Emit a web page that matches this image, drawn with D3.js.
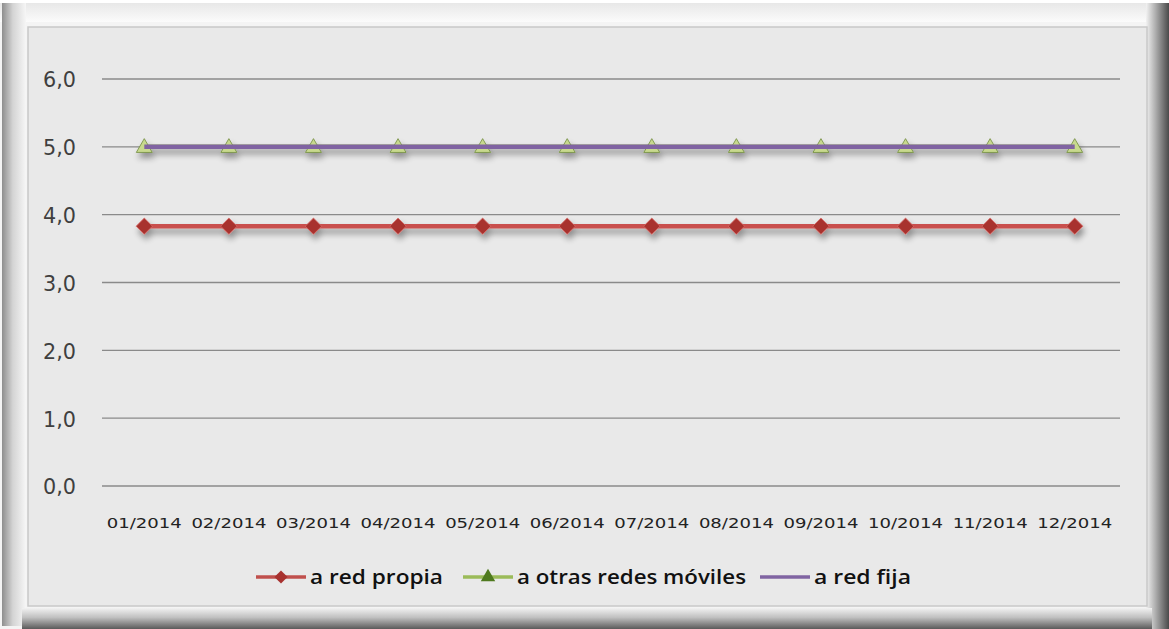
<!DOCTYPE html>
<html><head><meta charset="utf-8">
<script src="https://cdn.jsdelivr.net/npm/d3@7"></script>
<style>body{margin:0;background:#fff;}svg{display:block;}</style>
</head><body>
<svg id="c" width="1169" height="629"></svg>
<script>
const categories = ["01/2014","02/2014","03/2014","04/2014","05/2014","06/2014","07/2014","08/2014","09/2014","10/2014","11/2014","12/2014"];
const redPropia = [3.83,3.83,3.83,3.83,3.83,3.83,3.83,3.83,3.83,3.83,3.83,3.83];
const otrasMoviles = [5.0,5.0,5.0,5.0,5.0,5.0,5.0,5.0,5.0,5.0,5.0,5.0];
const redFija = [5.0,5.0,5.0,5.0,5.0,5.0,5.0,5.0,5.0,5.0,5.0,5.0];
const yTicks = [0,1,2,3,4,5,6];
const seriesNames = ["a red propia","a otras redes móviles","a red fija"];

const svg = d3.select("#c");
const W = 1169, H = 629;
const defs = svg.append("defs");
const gl = defs.append("linearGradient").attr("id","gl").attr("x1","0").attr("x2","1");
gl.append("stop").attr("offset","0").attr("stop-color","#8e8e8e");
gl.append("stop").attr("offset","0.45").attr("stop-color","#d4d4d4");
gl.append("stop").attr("offset","1").attr("stop-color","#f6f6f6");
const gr = defs.append("linearGradient").attr("id","gr").attr("x1","0").attr("x2","1");
gr.append("stop").attr("offset","0").attr("stop-color","#f2f2f2");
gr.append("stop").attr("offset","0.4").attr("stop-color","#b0b0b0");
gr.append("stop").attr("offset","1").attr("stop-color","#4a4a4a");
const gb = defs.append("linearGradient").attr("id","gb").attr("x1","0").attr("x2","0").attr("y1","0").attr("y2","1");
gb.append("stop").attr("offset","0").attr("stop-color","#f2f2f2");
gb.append("stop").attr("offset","0.45").attr("stop-color","#c0c0c0");
gb.append("stop").attr("offset","1").attr("stop-color","#5a5a5a");
const gt = defs.append("linearGradient").attr("id","gt").attr("x1","0").attr("x2","0").attr("y1","0").attr("y2","1");
gt.append("stop").attr("offset","0").attr("stop-color","#a8a8a8");
gt.append("stop").attr("offset","0.15").attr("stop-color","#e8e8e8");
gt.append("stop").attr("offset","1").attr("stop-color","#fbfbfb");
const sh = defs.append("filter").attr("id","sh").attr("x","-5%").attr("y","-100%").attr("width","110%").attr("height","400%");
sh.append("feGaussianBlur").attr("in","SourceAlpha").attr("stdDeviation","3");
sh.append("feOffset").attr("dx","2").attr("dy","5").attr("result","b");
sh.append("feComponentTransfer").append("feFuncA").attr("type","linear").attr("slope","0.4");
const mg = sh.append("feMerge"); mg.append("feMergeNode"); mg.append("feMergeNode").attr("in","SourceGraphic");

svg.append("rect").attr("x",0).attr("y",0).attr("width",W).attr("height",H).attr("fill","#f4f4f4");
svg.append("rect").attr("x",0).attr("y",0).attr("width",W).attr("height",22).attr("fill","url(#gt)");
svg.append("rect").attr("x",0).attr("y",0).attr("width",W).attr("height",3).attr("fill","#ffffff");
svg.append("rect").attr("x",2).attr("y",3).attr("width",24).attr("height",H-6).attr("fill","url(#gl)");
svg.append("rect").attr("x",1146).attr("y",3).attr("width",23).attr("height",H-3).attr("fill","url(#gr)");
svg.append("rect").attr("x",22).attr("y",608).attr("width",1130).attr("height",21).attr("fill","url(#gb)");
svg.append("rect").attr("x",28).attr("y",27).attr("width",1119).attr("height",579)
  .attr("fill","#e9e9e9").attr("stroke","#c8c8c8").attr("stroke-width",1.5);

const m = {left:102, right:1117, top:79, bottom:486};
const x = d3.scaleBand().domain(categories).range([m.left, m.right]);
const y = d3.scaleLinear().domain([0,6]).range([m.bottom, m.top]);
const cx = d => x(d) + x.bandwidth()/2;

svg.append("g").selectAll("line").data(yTicks).join("line")
  .attr("x1",m.left).attr("x2",m.right+3).attr("y1",d=>y(d)).attr("y2",d=>y(d))
  .attr("stroke","#8a8a8a").attr("stroke-width",1.3);

const yAxis = d3.axisLeft(y).tickValues(yTicks).tickSize(0).tickPadding(0)
  .tickFormat(d => d3.format(".1f")(d).replace(".",","));
const ya = svg.append("g").attr("transform",`translate(76,0)`).call(yAxis);
ya.select(".domain").remove();
ya.selectAll("text").attr("font-family","'DejaVu Sans', sans-serif").attr("font-size",22).attr("fill","#3f3f3f")
  .attr("dy","0.36em").attr("textLength",33).attr("lengthAdjust","spacingAndGlyphs");

const xAxis = d3.axisBottom(x).tickSize(0).tickPadding(0);
const xa = svg.append("g").attr("transform",`translate(0,${m.bottom+37})`).call(xAxis);
xa.select(".domain").remove();
xa.selectAll("text").attr("font-family","'DejaVu Sans', Verdana, sans-serif").attr("font-size",14).attr("fill","#222")
  .attr("dy","0.35em").attr("y",0).attr("textLength",75).attr("lengthAdjust","spacingAndGlyphs");

const line = d3.line().x((d,i)=>cx(categories[i])).y(d=>y(d));
const plot = svg.append("g").attr("filter","url(#sh)");

plot.append("path").datum(redPropia).attr("d",line).attr("fill","none").attr("stroke","#c9504d").attr("stroke-width",4.5);
plot.selectAll(".rm").data(redPropia).join("path").attr("class","rm")
  .attr("d",d3.symbol().type(d3.symbolDiamond2).size(170))
  .attr("transform",(d,i)=>`translate(${cx(categories[i])},${y(d)})`)
  .attr("fill","#a8322f").attr("stroke","#d56a66").attr("stroke-width",0.8);

plot.append("path").datum(otrasMoviles).attr("d",line).attr("fill","none").attr("stroke","#9bbb59").attr("stroke-width",4.5);
plot.selectAll(".gm").data(otrasMoviles).join("path").attr("class","gm")
  .attr("d",d3.symbol().type(d3.symbolTriangle).size(110))
  .attr("transform",(d,i)=>`translate(${cx(categories[i])},${y(d)+1})`)
  .attr("fill","#c8d98e").attr("stroke","#6f8a3a").attr("stroke-width",0.8);

plot.append("path").datum(redFija).attr("d",line).attr("fill","none").attr("stroke","#8064a2").attr("stroke-width",4.5);
plot.selectAll(".pm").data(redFija).join("path").attr("class","pm")
  .attr("d",d3.symbol().type(d3.symbolTimes).size(130))
  .attr("transform",(d,i)=>`translate(${cx(categories[i])},${y(d)-1})`)
  .attr("fill","#4e6a2a").attr("opacity",0.8);

const legend = svg.append("g").attr("font-family","'Open Sans', sans-serif").attr("font-size",19).attr("fill","#111");
const items = [
  {name:seriesNames[0], color:"#c0504d", x:256, sym:d3.symbolDiamond2, fill:"#a8322f", size:110, w:133},
  {name:seriesNames[1], color:"#9bbb59", x:463, sym:d3.symbolTriangle, fill:"#4f7a1f", size:90, w:229},
  {name:seriesNames[2], color:"#8064a2", x:760, sym:d3.symbolTimes, fill:"#b9a9d0", size:80, w:97}
];
const ly = 577;
items.forEach(it=>{
  legend.append("line").attr("x1",it.x).attr("x2",it.x+50).attr("y1",ly).attr("y2",ly).attr("stroke",it.color).attr("stroke-width",3.5);
  legend.append("path").attr("d",d3.symbol().type(it.sym).size(it.size)).attr("transform",`translate(${it.x+25},${ly})`).attr("fill",it.fill);
  legend.append("text").attr("x",it.x+54).attr("y",ly).attr("dy","0.35em").attr("font-weight",600)
    .attr("textLength",it.w).attr("lengthAdjust","spacingAndGlyphs").text(it.name);
});
</script>
</body></html>
